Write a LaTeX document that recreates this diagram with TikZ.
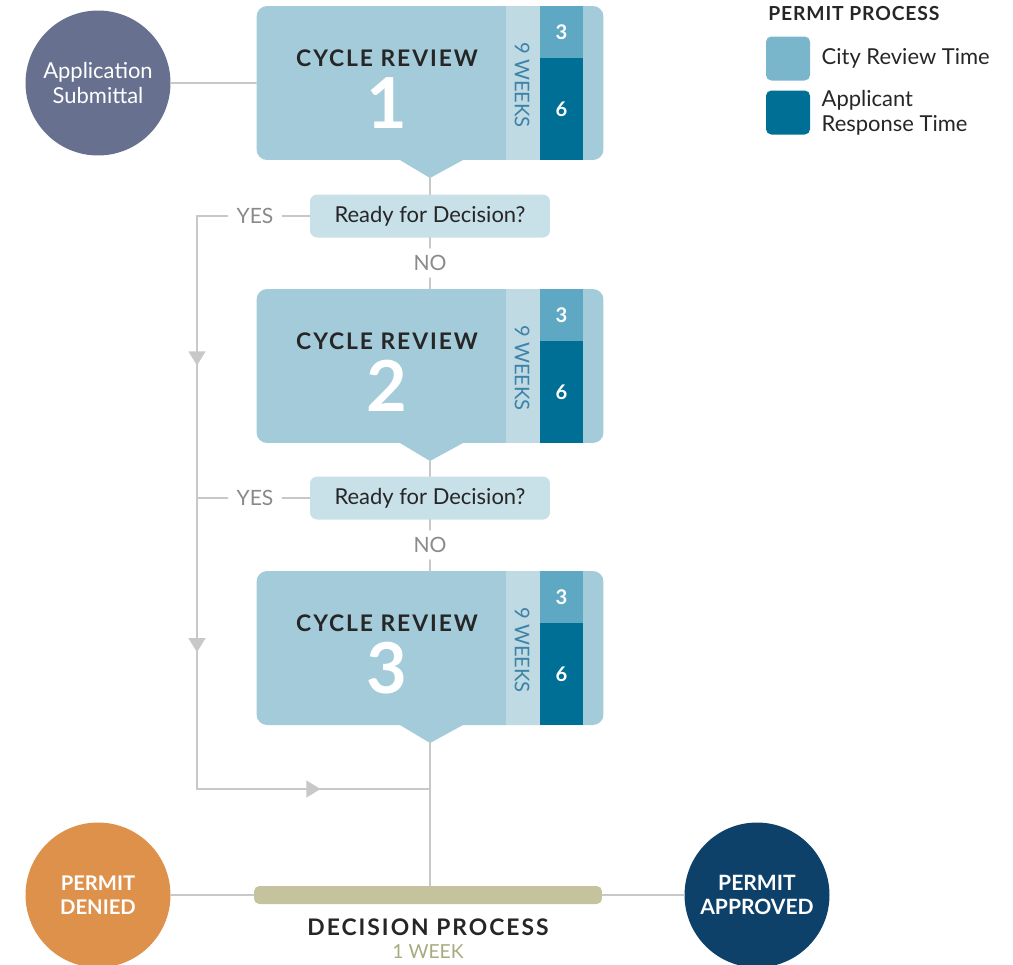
\documentclass[tikz,border=0pt]{standalone}
\usepackage{fontspec}
\setmainfont{Lato}
\usepackage{xcolor}
\usepackage{tikz}
\usetikzlibrary{shapes.geometric, arrows.meta, positioning, decorations.markings}

\definecolor{linegray}{HTML}{C8C8C8}
\definecolor{submitcol}{HTML}{67718F}
\definecolor{cyclebg}{HTML}{A3CBD9}
\definecolor{weekbg}{HTML}{BFDAE3}
\definecolor{weektext}{HTML}{3D82A8}
\definecolor{citycol}{HTML}{5EA8C3}
\definecolor{citylegend}{HTML}{7AB6CB}
\definecolor{applicantcol}{HTML}{006F95}
\definecolor{readybg}{HTML}{C8E0E8}
\definecolor{answertext}{HTML}{8A8A8A}
\definecolor{deniedcol}{HTML}{DE914B}
\definecolor{approvedcol}{HTML}{0E416A}
\definecolor{barcol}{HTML}{C4C39D}
\definecolor{onetext}{HTML}{A8AB7E}

\begin{document}
\begin{tikzpicture}[
    x=0.02cm, y=-0.02cm,
    line/.style={color=linegray, line width=1.2pt, line cap=round},
    midarrow/.style={postaction={decorate}, decoration={markings,
        mark=at position 0.53 with {\arrow{Triangle[length=8pt, width=9.5pt]}}}},
    bubble/.style={circle, minimum size=2.9cm, inner sep=0pt, text=white, align=center},
    cycle/.style={rectangle, rounded corners=6pt, fill=cyclebg, minimum width=6.94cm, minimum height=3.08cm, inner sep=0pt},
    weekstrip/.style={rectangle, fill=weekbg, minimum width=0.68cm, minimum height=3.08cm, inner sep=0pt},
    weeks/.style={rotate=-90, text=weektext, font=\fontsize{11.5}{13}\selectfont},
    citybox/.style={rectangle, fill=citycol, minimum width=0.86cm, minimum height=1.04cm, inner sep=0pt, text=white, font=\fontsize{11.5}{13}\selectfont\bfseries},
    applicantbox/.style={rectangle, fill=applicantcol, minimum width=0.86cm, minimum height=2.04cm, inner sep=0pt, text=white, font=\fontsize{11.5}{13}\selectfont\bfseries},
    cycletitle/.style={font=\fontsize{13}{15}\selectfont\bfseries\addfontfeatures{LetterSpace=8.5}, text=black!85},
    cyclenum/.style={font=\fontsize{40}{44}\selectfont\bfseries, text=white},
    ready/.style={rectangle, rounded corners=4pt, fill=readybg, minimum width=4.8cm, minimum height=0.86cm, inner sep=0pt, font=\fontsize{12.5}{14}\selectfont, text=black!85},
    answer/.style={inner xsep=5pt, inner ysep=4pt, text=answertext, font=\fontsize{12}{14}\selectfont},
    legendkey/.style={rectangle, rounded corners=3pt, minimum size=0.88cm, inner sep=0pt},
    legendtext/.style={inner sep=0pt, anchor=west, align=left, font=\fontsize{12.5}{14}\selectfont, text=black!85}
]
\useasboundingbox (0,0) rectangle (1013,964);

% start
\node[bubble, fill=submitcol, font=\fontsize{12.5}{14.5}\selectfont] (submit) at (98,83) {Application\\Submittal};

% three review cycles
\foreach \n/\y in {1/83,2/366,3/648}{
  \fill[cyclebg] (400,\y+77) -- (430,\y+95) -- (463,\y+77) -- cycle;
  \node[cycle] (cycle\n) at (430,\y) {};
  \node[weekstrip] (weekstrip\n) at (523,\y) {};
  \node[weeks] at (522,\y+2) {9 WEEKS};
  \node[citybox] (city\n) at (561.5,\y-51) {3};
  \node[applicantbox] (applicant\n) at (561.5,\y+26) {6};
  \node[cycletitle] at (387,\y-25) {CYCLE REVIEW};
  \node[cyclenum] at (387,\y+20) {\n};
  \coordinate (tip\n) at (430,\y+95);
}

% decisions between cycles
\node[ready] (ready1) at (430,216) {Ready for Decision?};
\node[answer] (yes1) at (255,216) {YES};
\node[answer] (no1) at (430,263) {NO};
\node[ready] (ready2) at (430,498) {Ready for Decision?};
\node[answer] (yes2) at (255,498) {YES};
\node[answer] (no2) at (430,545) {NO};

\coordinate (bend1) at (197,216);
\coordinate (bend2) at (197,498);
\coordinate (bend3) at (197,789);
\coordinate (join) at (430,789);

% decision process and outcomes
\node[rectangle, rounded corners=3pt, fill=barcol, minimum width=6.96cm, minimum height=0.36cm, inner sep=0pt] (bar) at (428,895) {};
\node[font=\fontsize{13}{15}\selectfont\bfseries\addfontfeatures{LetterSpace=8.7}, text=black!85] (dtitle) at (428,927) {DECISION PROCESS};
\node[font=\fontsize{11}{13}\selectfont, text=onetext] (dweek) at (428,952) {1 WEEK};
\node[bubble, fill=deniedcol, font=\fontsize{11.5}{13.5}\selectfont\bfseries] (denied) at (98,895) {PERMIT\\DENIED};
\node[bubble, fill=approvedcol, font=\fontsize{12}{13.5}\selectfont\bfseries] (approved) at (757,895) {PERMIT\\APPROVED};

% legend
\node[anchor=west, inner sep=0pt, font=\fontsize{11}{13}\selectfont\bfseries\addfontfeatures{LetterSpace=4.5}, text=black!85] (legend) at (768,14) {PERMIT PROCESS};
\node[legendkey, fill=citylegend] (citykey) at (788,58.5) {};
\node[legendkey, fill=applicantcol] (applicantkey) at (788,112.5) {};
\node[legendtext, right=0.22cm of citykey] (citylabel) {City Review Time};
\node[legendtext, right=0.22cm of applicantkey] (applicantlabel) {Applicant\\Response Time};

% connectors
\draw[line] (submit) -- (cycle1);
\draw[line] (tip1) -- (ready1);
\draw[line] (ready1) -- (no1);
\draw[line] (no1) -- (cycle2);
\draw[line] (tip2) -- (ready2);
\draw[line] (ready2) -- (no2);
\draw[line] (no2) -- (cycle3);
\draw[line] (ready1) -- (yes1);
\draw[line] (yes1) -- (bend1);
\draw[line, midarrow] (bend1) -- (bend2);
\draw[line] (ready2) -- (yes2);
\draw[line] (yes2) -- (bend2);
\draw[line, midarrow] (bend2) -- (bend3);
\draw[line, midarrow] (bend3) -- (join);
\draw[line] (tip3) -- (tip3 |- bar.north);
\draw[line] (denied) -- (bar);
\draw[line] (bar) -- (approved);
\end{tikzpicture}
\end{document}
